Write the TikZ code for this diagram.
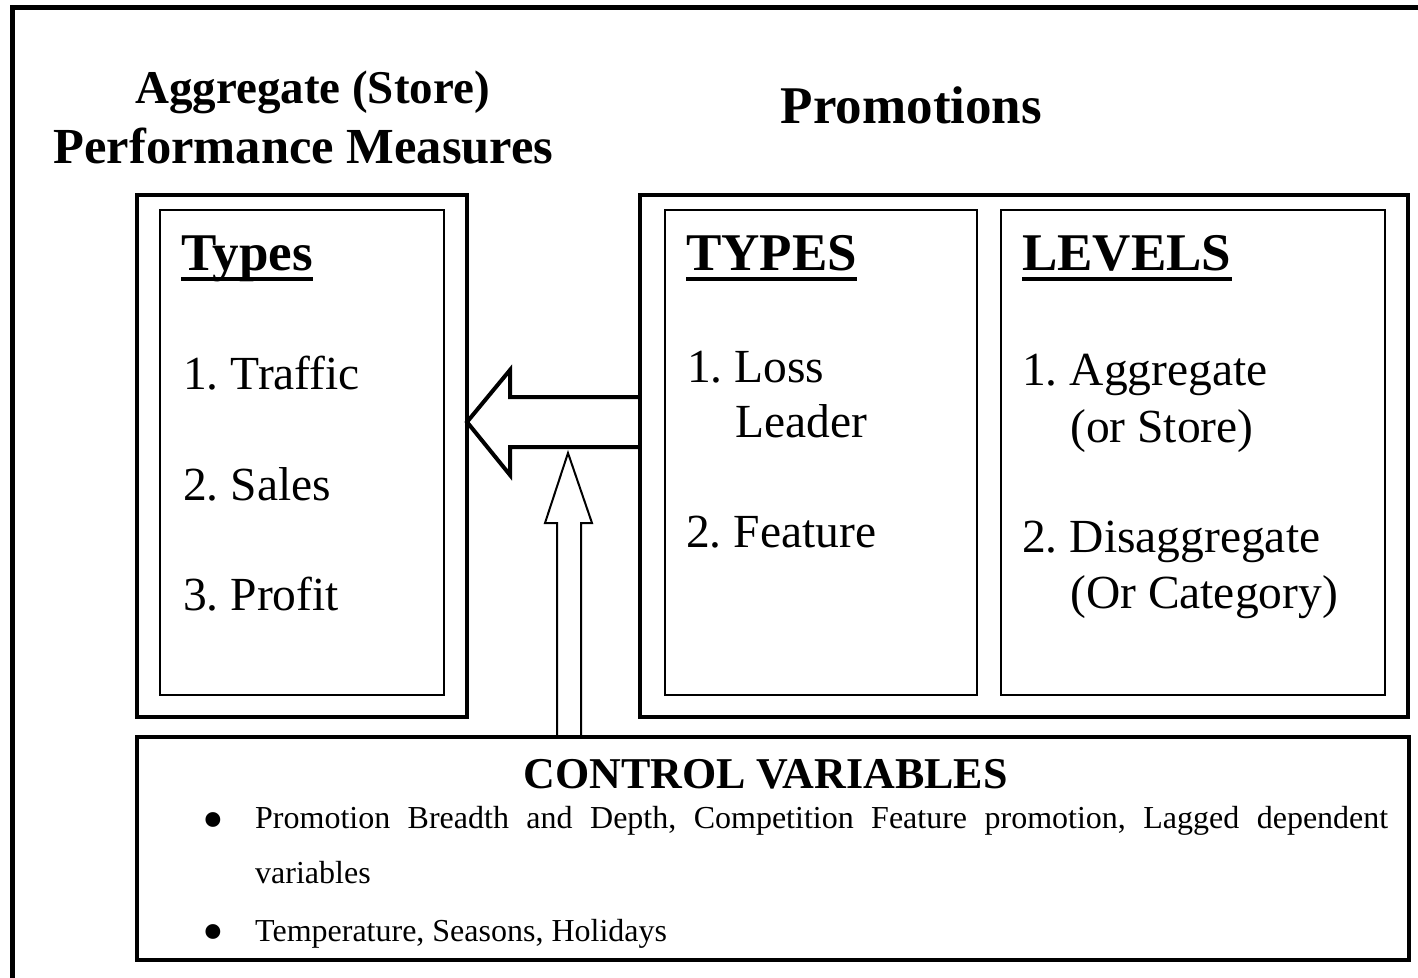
\documentclass[tikz,border=0pt]{standalone}
\usepackage{fontspec}
\setmainfont{Liberation Serif}
\frenchspacing
\usetikzlibrary{calc}
\tikzset{
    bigbox/.style={draw, line width=4pt, inner sep=0pt, outer sep=0pt},
    thinbox/.style={draw, line width=2pt, inner sep=0pt, outer sep=0pt},
    mainhead/.style={font=\fontsize{47}{56}\selectfont\bfseries, inner sep=0pt, anchor=base},
    colhead/.style={font=\fontsize{53}{60}\selectfont\bfseries, inner sep=0pt, anchor=base west},
    entry/.style={font=\fontsize{47.5}{55}\selectfont, inner sep=0pt, anchor=base west},
    note/.style={font=\fontsize{32}{38}\selectfont, inner sep=0pt, anchor=base west},
    dot/.style={font=\fontsize{62}{66}\selectfont, inner sep=0pt, anchor=base},
    uline/.style={line width=4pt},
    fatarrow/.style={draw, line width=4pt, line join=miter},
    slimarrow/.style={draw, line width=2pt, line join=miter},
}

\begin{document}
\begin{tikzpicture}[x=1pt, y=-1pt]
		\useasboundingbox (0,0) rectangle (1418,977);
		\draw[line width=5pt] (12.5,7.5) rectangle (1440,1000);

		% headings
		\node[mainhead] (aggr) at (312.5,103) {Aggregate (Store)};
		\node[mainhead, font=\fontsize{50.5}{58}\selectfont\bfseries] (perfm) at (303.5,163) {Performance Measures};
		\node[mainhead, font=\fontsize{53}{60}\selectfont\bfseries] (promos) at (911.5,123) {Promotions};

		% boxes
		\node[bigbox, minimum width=330pt, minimum height=522pt] (perf) at (302,456) {};
		\node[thinbox, minimum width=284pt, minimum height=485pt] (perfin) at (302,452.5) {};
		\node[bigbox, minimum width=768pt, minimum height=522pt] (promo) at (1024,456) {};
		\node[thinbox, minimum width=312pt, minimum height=485pt] (ptypes) at (821,452.5) {};
		\node[thinbox, minimum width=384pt, minimum height=485pt] (plevels) at (1193,452.5) {};
		\node[bigbox, minimum width=1272pt, minimum height=223pt] (ctrl) at (773,848.5) {};

		% store measures
		\node[colhead] (mtypes) at (181,270) {Types};
		\draw[uline] ([yshift=-9pt]mtypes.base west) -- ([yshift=-9pt]mtypes.base east);
		\node[entry] (traffic) at (183,389) {1. Traffic};
		\node[entry] (sales) at (183,500) {2. Sales};
		\node[entry] (profit) at (183,610) {3. Profit};

		% promotion types
		\node[colhead] (ttypes) at (686,270) {TYPES};
		\draw[uline] ([yshift=-9pt]ttypes.base west) -- ([yshift=-9pt]ttypes.base east);
		\node[entry] (loss) at (687,382) {1. Loss};
		\node[entry] (leader) at (735,437) {Leader};
		\node[entry] (feature) at (686,547) {2. Feature};

		% promotion levels
		\node[colhead] (tlevels) at (1022,270) {LEVELS};
		\draw[uline] ([yshift=-9pt]tlevels.base west) -- ([yshift=-9pt]tlevels.base east);
		\node[entry] (aggregate) at (1022,385) {1. Aggregate};
		\node[entry] (orstore) at (1070,442) {(or Store)};
		\node[entry] (disagg) at (1022,552) {2. Disaggregate};
		\node[entry] (orcat) at (1070,608) {(Or Category)};

		% control variables
		\node[mainhead, font=\fontsize{44}{50}\selectfont\bfseries] (ctitle) at (765.5,788) {CONTROL VARIABLES};
		\node[dot] (bulla) at (213,840) {\textbullet};
		\node[note] (linea) at (255,828) {\makebox[1133pt][s]{Promotion Breadth and Depth, Competition Feature promotion, Lagged dependent}};
		\node[note] (lineb) at (255,883) {variables};
		\node[dot] (bullb) at (213,952) {\textbullet};
		\node[note] (linec) at (255,941) {Temperature, Seasons, Holidays};

		% arrows
		\draw[fatarrow] (promo.west |- 0,397) -- (510,397) -- (510,370) -- (perf.east |- 0,422)
		  -- (510,475) -- (510,447) -- (promo.west |- 0,447);
		\draw[slimarrow] (ctrl.north -| 557,0) -- (557,523) -- (545,523) -- (568,453)
		  -- (592,523) -- (581,523) -- (ctrl.north -| 581,0);
\end{tikzpicture}
\end{document}
